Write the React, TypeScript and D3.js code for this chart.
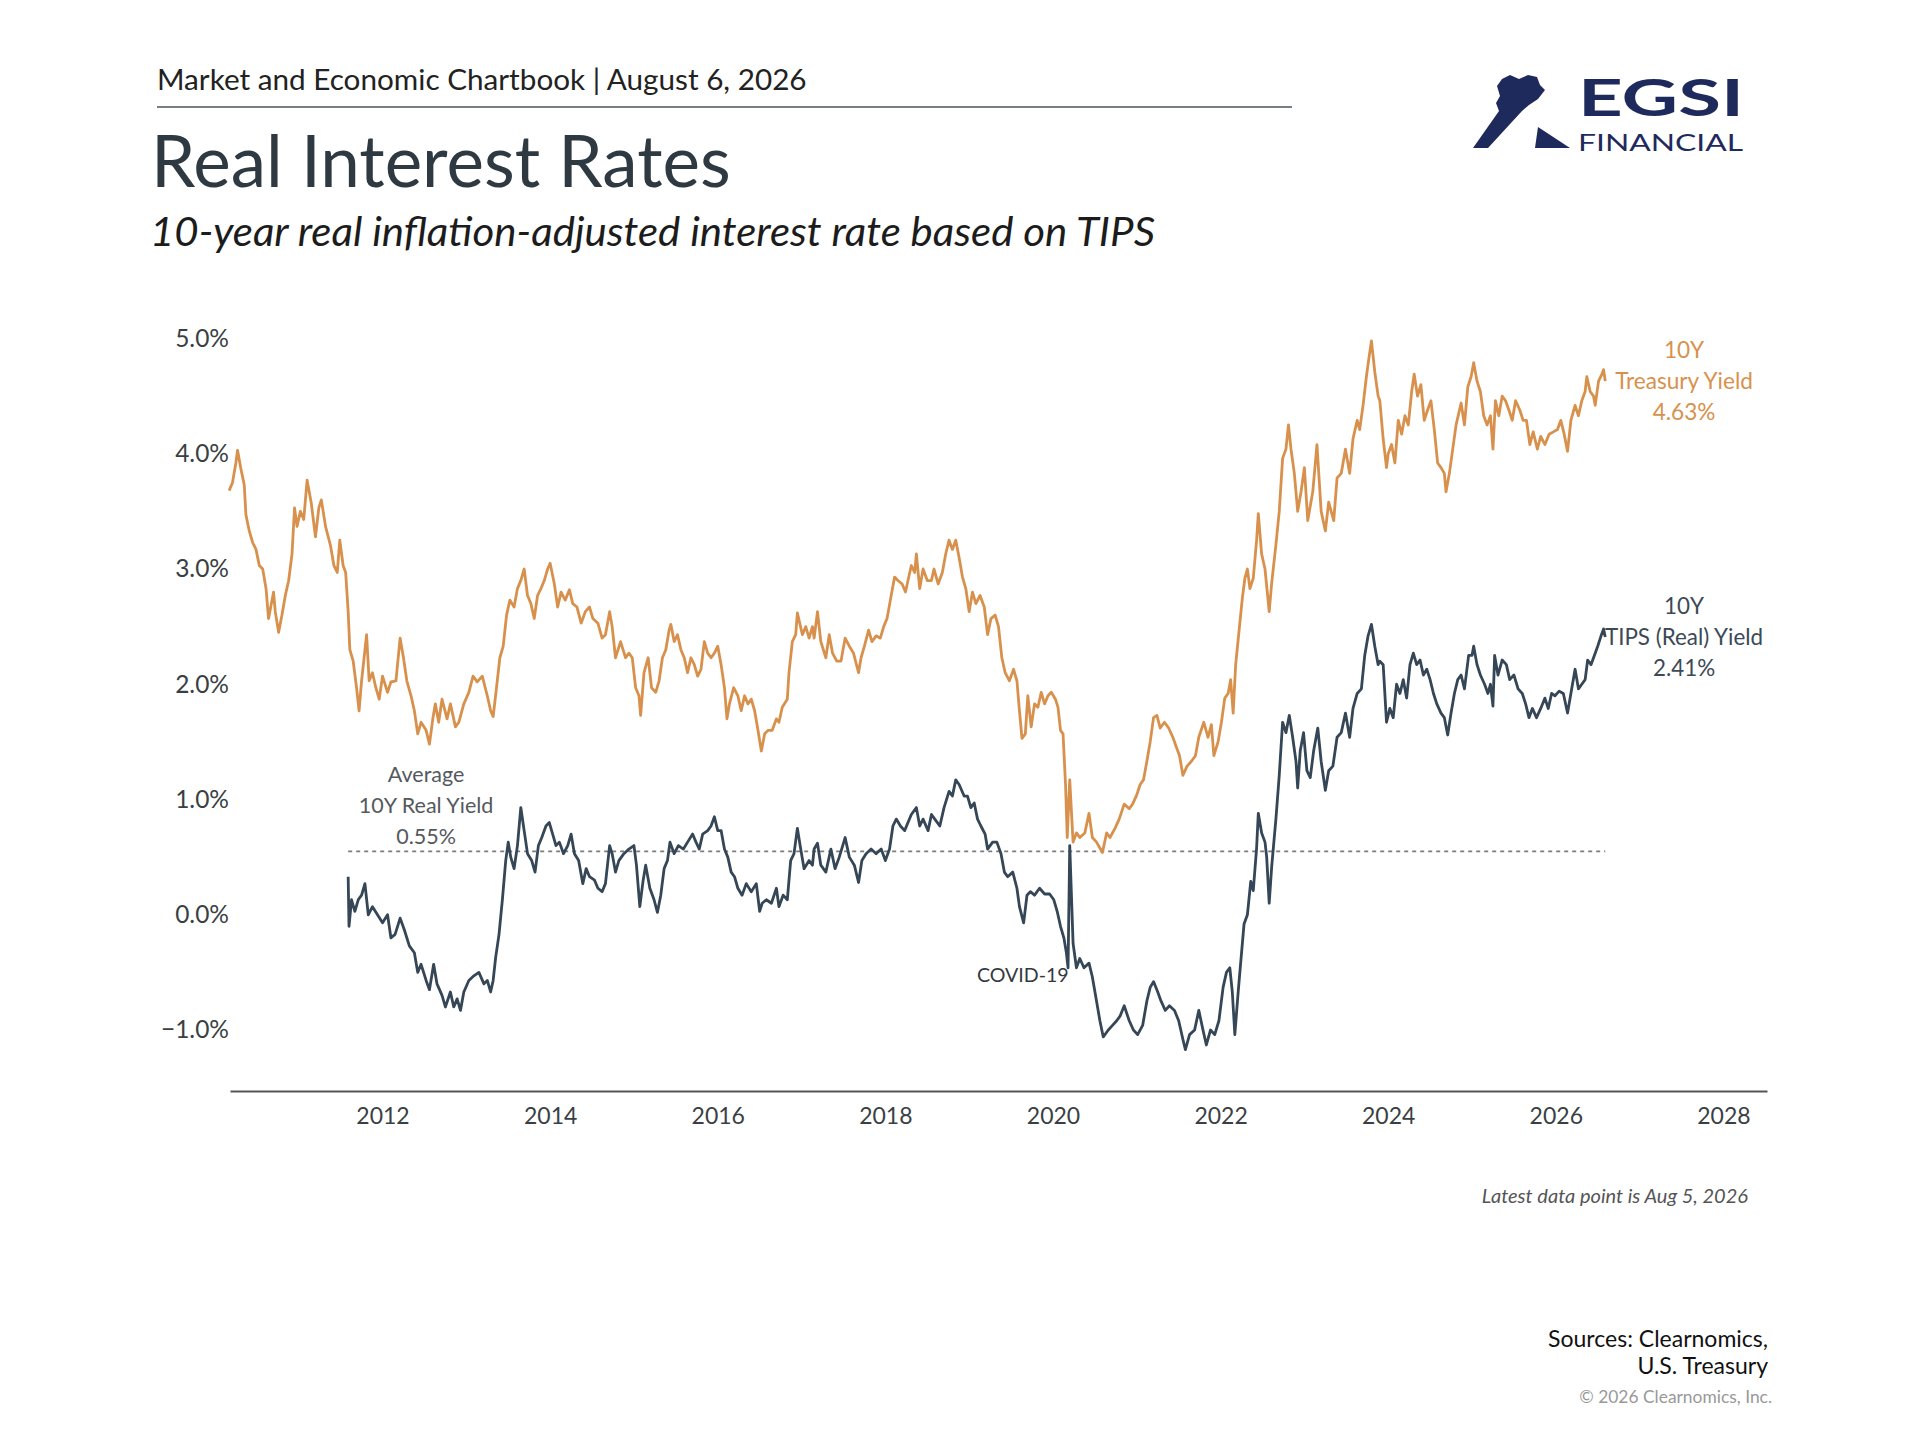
import { useEffect, useRef } from 'react';
import * as d3 from 'd3';

// 10Y Treasury yield, [decimal year, %]
const treasuryYield: [number, number][] = [
  [2010.17, 3.68], [2010.21, 3.75], [2010.25, 3.92], [2010.27, 4.03], [2010.31, 3.87], [2010.35, 3.73],
  [2010.37, 3.47], [2010.41, 3.33], [2010.45, 3.23], [2010.49, 3.17], [2010.53, 3.03], [2010.57, 3.0],
  [2010.61, 2.83], [2010.64, 2.57], [2010.70, 2.8], [2010.72, 2.63], [2010.76, 2.45], [2010.80, 2.6],
  [2010.84, 2.77], [2010.88, 2.9], [2010.92, 3.13], [2010.95, 3.53], [2010.98, 3.37], [2011.02, 3.5],
  [2011.06, 3.43], [2011.10, 3.77], [2011.15, 3.57], [2011.20, 3.28], [2011.24, 3.53], [2011.27, 3.6],
  [2011.32, 3.37], [2011.38, 3.2], [2011.42, 3.03], [2011.46, 2.97], [2011.49, 3.25], [2011.53, 3.03],
  [2011.56, 2.97], [2011.59, 2.63], [2011.61, 2.3], [2011.65, 2.2], [2011.69, 1.97], [2011.72, 1.77],
  [2011.75, 2.03], [2011.78, 2.23], [2011.81, 2.43], [2011.84, 2.03], [2011.88, 2.1], [2011.92, 1.97],
  [2011.96, 1.87], [2012.00, 2.07], [2012.06, 1.93], [2012.10, 2.02], [2012.16, 2.03], [2012.21, 2.4],
  [2012.25, 2.23], [2012.29, 2.03], [2012.34, 1.9], [2012.38, 1.77], [2012.42, 1.57], [2012.46, 1.67],
  [2012.52, 1.6], [2012.56, 1.48], [2012.60, 1.7], [2012.63, 1.83], [2012.67, 1.67], [2012.71, 1.87],
  [2012.77, 1.7], [2012.81, 1.83], [2012.87, 1.63], [2012.91, 1.67], [2012.97, 1.83], [2013.03, 1.93],
  [2013.08, 2.07], [2013.13, 2.02], [2013.19, 2.07], [2013.25, 1.9], [2013.29, 1.77], [2013.32, 1.72],
  [2013.36, 1.97], [2013.40, 2.23], [2013.44, 2.33], [2013.48, 2.6], [2013.52, 2.73], [2013.57, 2.67],
  [2013.61, 2.83], [2013.65, 2.9], [2013.69, 3.0], [2013.73, 2.77], [2013.77, 2.7], [2013.81, 2.57],
  [2013.85, 2.77], [2013.89, 2.83], [2013.93, 2.9], [2013.97, 3.0], [2014.00, 3.05], [2014.05, 2.87],
  [2014.09, 2.67], [2014.13, 2.8], [2014.18, 2.73], [2014.23, 2.82], [2014.27, 2.7], [2014.32, 2.67],
  [2014.37, 2.53], [2014.42, 2.63], [2014.47, 2.67], [2014.51, 2.57], [2014.57, 2.53], [2014.62, 2.4],
  [2014.66, 2.43], [2014.71, 2.63], [2014.74, 2.5], [2014.78, 2.23], [2014.84, 2.37], [2014.90, 2.23],
  [2014.94, 2.27], [2014.98, 2.23], [2015.02, 1.97], [2015.06, 1.9], [2015.08, 1.73], [2015.12, 2.1],
  [2015.17, 2.23], [2015.21, 1.97], [2015.26, 1.93], [2015.30, 2.03], [2015.34, 2.23], [2015.38, 2.3],
  [2015.42, 2.47], [2015.44, 2.52], [2015.48, 2.37], [2015.52, 2.43], [2015.56, 2.3], [2015.60, 2.23],
  [2015.64, 2.1], [2015.68, 2.23], [2015.72, 2.17], [2015.76, 2.07], [2015.80, 2.13], [2015.84, 2.37],
  [2015.88, 2.27], [2015.92, 2.23], [2015.96, 2.27], [2016.00, 2.33], [2016.04, 2.17], [2016.08, 1.97],
  [2016.11, 1.7], [2016.14, 1.83], [2016.19, 1.97], [2016.24, 1.9], [2016.28, 1.77], [2016.32, 1.9],
  [2016.36, 1.83], [2016.40, 1.87], [2016.44, 1.77], [2016.48, 1.6], [2016.52, 1.42], [2016.56, 1.57],
  [2016.60, 1.6], [2016.65, 1.6], [2016.70, 1.7], [2016.73, 1.67], [2016.77, 1.8], [2016.83, 1.87],
  [2016.85, 2.1], [2016.89, 2.37], [2016.93, 2.43], [2016.95, 2.62], [2017.01, 2.43], [2017.05, 2.5],
  [2017.09, 2.4], [2017.13, 2.5], [2017.15, 2.4], [2017.19, 2.63], [2017.23, 2.37], [2017.29, 2.23],
  [2017.33, 2.43], [2017.37, 2.27], [2017.42, 2.2], [2017.47, 2.2], [2017.52, 2.4], [2017.57, 2.33],
  [2017.62, 2.27], [2017.68, 2.1], [2017.71, 2.23], [2017.75, 2.33], [2017.80, 2.47], [2017.84, 2.37],
  [2017.89, 2.42], [2017.94, 2.4], [2017.98, 2.5], [2018.02, 2.57], [2018.06, 2.73], [2018.11, 2.93],
  [2018.15, 2.9], [2018.20, 2.87], [2018.24, 2.8], [2018.27, 2.9], [2018.31, 3.03], [2018.35, 2.97],
  [2018.37, 3.13], [2018.41, 2.83], [2018.45, 3.0], [2018.50, 2.9], [2018.55, 2.9], [2018.58, 3.0],
  [2018.63, 2.87], [2018.68, 2.97], [2018.72, 3.13], [2018.76, 3.25], [2018.80, 3.17], [2018.84, 3.25],
  [2018.88, 3.1], [2018.92, 2.93], [2018.96, 2.83], [2019.00, 2.63], [2019.04, 2.8], [2019.08, 2.7],
  [2019.13, 2.77], [2019.18, 2.67], [2019.22, 2.43], [2019.26, 2.57], [2019.31, 2.6], [2019.35, 2.5],
  [2019.39, 2.23], [2019.43, 2.1], [2019.48, 2.03], [2019.53, 2.13], [2019.57, 2.03], [2019.60, 1.77],
  [2019.63, 1.53], [2019.67, 1.57], [2019.70, 1.9], [2019.74, 1.63], [2019.78, 1.83], [2019.82, 1.8],
  [2019.86, 1.93], [2019.90, 1.83], [2019.94, 1.9], [2019.98, 1.93], [2020.03, 1.87], [2020.06, 1.8],
  [2020.09, 1.6], [2020.12, 1.57], [2020.15, 1.13], [2020.17, 0.67], [2020.20, 1.17], [2020.24, 0.63],
  [2020.28, 0.71], [2020.32, 0.67], [2020.38, 0.71], [2020.43, 0.88], [2020.47, 0.67], [2020.52, 0.63],
  [2020.59, 0.54], [2020.64, 0.71], [2020.68, 0.67], [2020.74, 0.75], [2020.79, 0.83], [2020.85, 0.96],
  [2020.91, 0.92], [2020.95, 0.96], [2021.00, 1.04], [2021.04, 1.13], [2021.08, 1.17], [2021.12, 1.33],
  [2021.16, 1.5], [2021.20, 1.71], [2021.24, 1.73], [2021.28, 1.62], [2021.33, 1.67], [2021.38, 1.62],
  [2021.43, 1.54], [2021.47, 1.46], [2021.51, 1.38], [2021.55, 1.21], [2021.60, 1.29], [2021.65, 1.33],
  [2021.70, 1.38], [2021.74, 1.54], [2021.80, 1.67], [2021.85, 1.54], [2021.89, 1.65], [2021.92, 1.38],
  [2021.97, 1.5], [2022.01, 1.67], [2022.05, 1.88], [2022.09, 1.92], [2022.12, 2.04], [2022.15, 1.75],
  [2022.18, 2.17], [2022.22, 2.46], [2022.26, 2.75], [2022.29, 2.92], [2022.32, 3.0], [2022.35, 2.83],
  [2022.39, 2.92], [2022.43, 3.25], [2022.45, 3.48], [2022.49, 3.13], [2022.53, 3.0], [2022.58, 2.63],
  [2022.61, 2.88], [2022.66, 3.21], [2022.70, 3.5], [2022.74, 3.96], [2022.78, 4.04], [2022.81, 4.25],
  [2022.84, 4.04], [2022.88, 3.83], [2022.92, 3.5], [2022.96, 3.67], [2023.00, 3.88], [2023.04, 3.42],
  [2023.10, 3.67], [2023.15, 4.08], [2023.20, 3.5], [2023.25, 3.33], [2023.29, 3.58], [2023.35, 3.42],
  [2023.39, 3.79], [2023.44, 3.83], [2023.49, 4.04], [2023.54, 3.83], [2023.58, 4.13], [2023.63, 4.29],
  [2023.66, 4.21], [2023.70, 4.42], [2023.74, 4.67], [2023.77, 4.83], [2023.80, 4.98], [2023.84, 4.71],
  [2023.88, 4.5], [2023.90, 4.46], [2023.94, 4.13], [2023.98, 3.88], [2024.00, 4.0], [2024.04, 4.08],
  [2024.08, 3.92], [2024.12, 4.29], [2024.16, 4.17], [2024.20, 4.33], [2024.24, 4.25], [2024.28, 4.54],
  [2024.31, 4.69], [2024.35, 4.5], [2024.39, 4.6], [2024.43, 4.29], [2024.47, 4.38], [2024.51, 4.46],
  [2024.55, 4.21], [2024.59, 3.92], [2024.63, 3.88], [2024.67, 3.83], [2024.69, 3.67], [2024.73, 3.83],
  [2024.77, 4.04], [2024.81, 4.25], [2024.87, 4.44], [2024.91, 4.25], [2024.95, 4.58], [2024.99, 4.67],
  [2025.02, 4.79], [2025.06, 4.63], [2025.10, 4.54], [2025.14, 4.33], [2025.18, 4.25], [2025.22, 4.33],
  [2025.25, 4.04], [2025.28, 4.46], [2025.32, 4.33], [2025.36, 4.5], [2025.40, 4.46], [2025.44, 4.38],
  [2025.48, 4.29], [2025.52, 4.46], [2025.57, 4.38], [2025.61, 4.29], [2025.65, 4.29], [2025.69, 4.08],
  [2025.73, 4.19], [2025.78, 4.04], [2025.82, 4.15], [2025.87, 4.08], [2025.92, 4.17], [2025.97, 4.19],
  [2026.02, 4.21], [2026.06, 4.29], [2026.10, 4.17], [2026.14, 4.02], [2026.18, 4.29], [2026.23, 4.42],
  [2026.27, 4.33], [2026.31, 4.46], [2026.35, 4.54], [2026.37, 4.67], [2026.41, 4.54], [2026.45, 4.5],
  [2026.47, 4.42], [2026.51, 4.63], [2026.55, 4.69], [2026.57, 4.73], [2026.59, 4.63],
];

// 10Y TIPS (real) yield, [decimal year, %]
const tipsYield: [number, number][] = [
  [2011.59, 0.33], [2011.60, -0.1], [2011.63, 0.13], [2011.67, 0.03], [2011.71, 0.13], [2011.75, 0.17],
  [2011.79, 0.27], [2011.83, 0.0], [2011.88, 0.07], [2011.94, 0.0], [2012.00, -0.07], [2012.06, 0.0],
  [2012.10, -0.2], [2012.15, -0.17], [2012.21, -0.03], [2012.26, -0.13], [2012.32, -0.27], [2012.38, -0.33],
  [2012.42, -0.5], [2012.46, -0.43], [2012.52, -0.57], [2012.56, -0.65], [2012.61, -0.43], [2012.65, -0.6],
  [2012.71, -0.7], [2012.75, -0.8], [2012.81, -0.67], [2012.85, -0.8], [2012.89, -0.73], [2012.93, -0.83],
  [2012.97, -0.67], [2013.03, -0.57], [2013.09, -0.53], [2013.15, -0.5], [2013.21, -0.6], [2013.25, -0.57],
  [2013.29, -0.67], [2013.32, -0.57], [2013.35, -0.37], [2013.39, -0.17], [2013.43, 0.13], [2013.47, 0.47],
  [2013.50, 0.63], [2013.53, 0.5], [2013.57, 0.4], [2013.61, 0.6], [2013.65, 0.93], [2013.69, 0.73],
  [2013.73, 0.53], [2013.78, 0.47], [2013.82, 0.37], [2013.86, 0.6], [2013.90, 0.67], [2013.95, 0.77],
  [2013.99, 0.8], [2014.03, 0.7], [2014.07, 0.6], [2014.11, 0.63], [2014.16, 0.53], [2014.21, 0.6],
  [2014.25, 0.7], [2014.29, 0.53], [2014.34, 0.47], [2014.39, 0.27], [2014.43, 0.4], [2014.47, 0.33],
  [2014.53, 0.3], [2014.57, 0.23], [2014.62, 0.2], [2014.66, 0.27], [2014.71, 0.6], [2014.74, 0.53],
  [2014.78, 0.37], [2014.82, 0.47], [2014.88, 0.53], [2014.94, 0.57], [2015.00, 0.6], [2015.03, 0.43],
  [2015.07, 0.07], [2015.11, 0.3], [2015.14, 0.43], [2015.19, 0.23], [2015.24, 0.13], [2015.28, 0.02],
  [2015.32, 0.17], [2015.36, 0.4], [2015.40, 0.47], [2015.43, 0.63], [2015.48, 0.53], [2015.53, 0.6],
  [2015.59, 0.57], [2015.64, 0.63], [2015.70, 0.7], [2015.74, 0.63], [2015.78, 0.57], [2015.82, 0.7],
  [2015.88, 0.73], [2015.92, 0.77], [2015.96, 0.85], [2016.00, 0.73], [2016.04, 0.73], [2016.08, 0.57],
  [2016.12, 0.5], [2016.16, 0.37], [2016.20, 0.33], [2016.24, 0.23], [2016.29, 0.17], [2016.34, 0.27],
  [2016.40, 0.2], [2016.46, 0.27], [2016.50, 0.03], [2016.53, 0.1], [2016.58, 0.13], [2016.64, 0.1],
  [2016.70, 0.23], [2016.73, 0.07], [2016.78, 0.17], [2016.83, 0.13], [2016.87, 0.47], [2016.91, 0.53],
  [2016.95, 0.75], [2016.99, 0.57], [2017.03, 0.4], [2017.09, 0.47], [2017.13, 0.43], [2017.15, 0.57],
  [2017.19, 0.62], [2017.23, 0.43], [2017.29, 0.37], [2017.35, 0.57], [2017.40, 0.4], [2017.45, 0.5],
  [2017.52, 0.67], [2017.57, 0.5], [2017.63, 0.43], [2017.68, 0.28], [2017.72, 0.47], [2017.77, 0.53],
  [2017.83, 0.57], [2017.89, 0.53], [2017.95, 0.57], [2018.00, 0.47], [2018.05, 0.57], [2018.09, 0.77],
  [2018.13, 0.83], [2018.18, 0.77], [2018.23, 0.73], [2018.27, 0.8], [2018.31, 0.87], [2018.37, 0.93],
  [2018.41, 0.77], [2018.45, 0.83], [2018.51, 0.73], [2018.55, 0.87], [2018.59, 0.83], [2018.65, 0.77],
  [2018.70, 0.93], [2018.76, 1.07], [2018.80, 1.03], [2018.84, 1.17], [2018.88, 1.13], [2018.94, 1.03],
  [2018.98, 1.03], [2019.02, 0.93], [2019.06, 0.97], [2019.10, 0.83], [2019.14, 0.77], [2019.19, 0.7],
  [2019.22, 0.57], [2019.28, 0.63], [2019.33, 0.63], [2019.38, 0.53], [2019.42, 0.37], [2019.46, 0.33],
  [2019.52, 0.37], [2019.57, 0.23], [2019.60, 0.07], [2019.65, -0.07], [2019.69, 0.17], [2019.73, 0.2],
  [2019.78, 0.17], [2019.84, 0.23], [2019.90, 0.18], [2019.96, 0.18], [2020.01, 0.13], [2020.05, 0.03],
  [2020.09, -0.1], [2020.13, -0.2], [2020.16, -0.33], [2020.18, -0.46], [2020.20, 0.6], [2020.24, -0.25],
  [2020.28, -0.46], [2020.32, -0.38], [2020.37, -0.46], [2020.43, -0.42], [2020.47, -0.54], [2020.52, -0.75],
  [2020.56, -0.92], [2020.60, -1.06], [2020.66, -1.0], [2020.71, -0.96], [2020.76, -0.92], [2020.80, -0.88],
  [2020.85, -0.79], [2020.91, -0.92], [2020.96, -1.0], [2021.01, -1.04], [2021.07, -0.96], [2021.12, -0.75],
  [2021.16, -0.63], [2021.20, -0.58], [2021.25, -0.67], [2021.29, -0.75], [2021.34, -0.83], [2021.39, -0.79],
  [2021.45, -0.83], [2021.50, -0.92], [2021.55, -1.08], [2021.58, -1.17], [2021.63, -1.04], [2021.69, -1.0],
  [2021.74, -0.83], [2021.79, -1.0], [2021.83, -1.13], [2021.88, -1.0], [2021.93, -1.04], [2021.98, -0.92],
  [2022.03, -0.63], [2022.07, -0.5], [2022.11, -0.46], [2022.14, -0.67], [2022.17, -1.04], [2022.21, -0.67],
  [2022.25, -0.33], [2022.28, -0.08], [2022.32, 0.0], [2022.36, 0.29], [2022.39, 0.21], [2022.43, 0.58],
  [2022.45, 0.88], [2022.49, 0.71], [2022.53, 0.63], [2022.55, 0.5], [2022.58, 0.1], [2022.61, 0.42],
  [2022.66, 0.83], [2022.70, 1.21], [2022.74, 1.67], [2022.78, 1.58], [2022.82, 1.73], [2022.86, 1.54],
  [2022.90, 1.33], [2022.92, 1.1], [2022.95, 1.42], [2022.99, 1.58], [2023.03, 1.25], [2023.07, 1.19],
  [2023.11, 1.42], [2023.16, 1.62], [2023.20, 1.33], [2023.25, 1.08], [2023.29, 1.25], [2023.34, 1.29],
  [2023.39, 1.54], [2023.44, 1.58], [2023.49, 1.75], [2023.54, 1.54], [2023.58, 1.79], [2023.63, 1.92],
  [2023.68, 1.96], [2023.72, 2.25], [2023.76, 2.42], [2023.80, 2.52], [2023.84, 2.33], [2023.88, 2.17],
  [2023.90, 2.2], [2023.94, 2.17], [2023.98, 1.67], [2024.02, 1.79], [2024.06, 1.71], [2024.10, 2.0],
  [2024.14, 1.92], [2024.18, 2.04], [2024.22, 1.88], [2024.26, 2.17], [2024.30, 2.27], [2024.34, 2.17],
  [2024.38, 2.21], [2024.42, 2.08], [2024.46, 2.13], [2024.50, 2.04], [2024.54, 1.92], [2024.58, 1.83],
  [2024.63, 1.75], [2024.67, 1.71], [2024.71, 1.56], [2024.75, 1.75], [2024.79, 1.92], [2024.83, 2.04],
  [2024.87, 2.08], [2024.91, 1.96], [2024.96, 2.25], [2025.00, 2.25], [2025.02, 2.33], [2025.06, 2.17],
  [2025.10, 2.08], [2025.15, 2.0], [2025.19, 1.92], [2025.22, 2.0], [2025.25, 1.81], [2025.27, 2.25],
  [2025.31, 2.08], [2025.36, 2.21], [2025.41, 2.17], [2025.45, 2.04], [2025.50, 2.08], [2025.55, 1.96],
  [2025.60, 1.92], [2025.64, 1.83], [2025.68, 1.71], [2025.72, 1.79], [2025.77, 1.71], [2025.82, 1.79],
  [2025.87, 1.88], [2025.91, 1.79], [2025.95, 1.92], [2025.99, 1.9], [2026.04, 1.94], [2026.09, 1.92],
  [2026.14, 1.75], [2026.18, 1.92], [2026.23, 2.13], [2026.27, 1.96], [2026.31, 2.0], [2026.35, 2.04],
  [2026.38, 2.21], [2026.42, 2.17], [2026.46, 2.25], [2026.50, 2.33], [2026.54, 2.42], [2026.57, 2.48],
  [2026.59, 2.41],
];

const yTicks = [-1, 0, 1, 2, 3, 4, 5];
const xTicks = [2012, 2014, 2016, 2018, 2020, 2022, 2024, 2026, 2028];
const averageRealYield = 0.55;
const covidYear = 2020.2;
const treasuryLabel = ['10Y', 'Treasury Yield', '4.63%'];
const tipsLabel = ['10Y', 'TIPS (Real) Yield', '2.41%'];
const averageLabel = ['Average', '10Y Real Yield', '0.55%'];

const FONT = 'Lato, "Open Sans", sans-serif';
const ORANGE = '#d8914c';
const SLATE = '#354656';

const App = () => {
  const svgRef = useRef<SVGSVGElement>(null);

  useEffect(() => {
    if (!svgRef.current) return;
    const svg = d3.select(svgRef.current);
    svg.selectAll('*').remove();

    const x = d3.scaleLinear().domain([2010.18, 2028.52]).range([230, 1767]);
    const y = d3.scaleLinear().domain([-1, 5]).range([1030, 338.5]);

    svg.append('rect').attr('width', 1920).attr('height', 1440).attr('fill', '#fff');

    // Header
    svg.append('text')
      .attr('x', 157).attr('y', 90)
      .style('font-family', FONT).style('font-size', '29.7px').attr('fill', '#222')
      .text('Market and Economic Chartbook | August 6, 2026');
    svg.append('line')
      .attr('x1', 157).attr('x2', 1292).attr('y1', 107).attr('y2', 107)
      .attr('stroke', '#4a555e').attr('stroke-width', 1.6);
    svg.append('text')
      .attr('x', 151).attr('y', 187)
      .style('font-family', FONT).style('font-size', '71px').attr('fill', '#2e3942')
      .text('Real Interest Rates');
    svg.append('text')
      .attr('x', 150).attr('y', 246)
      .attr('textLength', 1005).attr('lengthAdjust', 'spacingAndGlyphs')
      .style('font-family', FONT).style('font-size', '40px').style('font-style', 'italic').attr('fill', '#1c1c1c')
      .text('10-year real inflation-adjusted interest rate based on TIPS');

    // Logo
    const logo = svg.append('g').attr('fill', '#1f2a5c');
    logo.append('path')
      .attr('d', 'M1473,148 L1488,148 L1522,111 L1529,105 L1538,99 L1545,90 L1540,85 L1537,77 L1528,75 L1519,79 L1510,75 L1502,79 L1497,86 L1500,96 L1496,103 L1499,111 Z');
    logo.append('path').attr('d', 'M1538,127 L1570,148 L1535,148 Z');
    logo.append('text')
      .attr('x', 1578).attr('y', 116).attr('textLength', 166).attr('lengthAdjust', 'spacingAndGlyphs')
      .style('font-family', FONT).style('font-size', '52px').style('font-weight', 700)
      .text('EGSI');
    logo.append('text')
      .attr('x', 1578).attr('y', 150.5).attr('textLength', 165).attr('lengthAdjust', 'spacingAndGlyphs')
      .style('font-family', FONT).style('font-size', '23px')
      .text('FINANCIAL');

    // Y axis
    const fmt = d3.format('.1f');
    svg.append('g')
      .attr('transform', 'translate(229,0)')
      .call(d3.axisLeft(y).tickValues(yTicks).tickSize(0).tickPadding(0).tickFormat(d => `${fmt(d as number)}%`))
      .call(g => g.select('.domain').remove())
      .call(g => g.selectAll('text')
        .style('font-family', FONT).style('font-size', '24.5px').attr('fill', '#3a3f44'));

    // X axis
    svg.append('g')
      .attr('transform', 'translate(0,1091)')
      .call(d3.axisBottom(x).tickValues(xTicks).tickSize(0).tickSizeOuter(0).tickPadding(17).tickFormat(d3.format('d')))
      .call(g => g.select('.domain').attr('stroke', '#555').attr('stroke-width', 2))
      .call(g => g.selectAll('text')
        .style('font-family', FONT).style('font-size', '23px').attr('fill', '#3a3f44'));

    // Average real yield line
    const tFirst = tipsYield[0][0];
    const tLast = tipsYield[tipsYield.length - 1][0];
    svg.append('line')
      .attr('x1', x(tFirst)).attr('x2', x(tLast))
      .attr('y1', y(averageRealYield)).attr('y2', y(averageRealYield))
      .attr('stroke', '#7d7d7d').attr('stroke-width', 1.6).attr('stroke-dasharray', '4 4');

    const line = d3.line<[number, number]>().x(d => x(d[0])).y(d => y(d[1]));

    svg.append('path').datum(treasuryYield)
      .attr('d', line).attr('fill', 'none').attr('stroke', ORANGE)
      .attr('stroke-width', 2.8).attr('stroke-linejoin', 'round');
    svg.append('path').datum(tipsYield)
      .attr('d', line).attr('fill', 'none').attr('stroke', SLATE)
      .attr('stroke-width', 2.8).attr('stroke-linejoin', 'round');

    // Annotations
    const labelBlock = (lines: string[], cx: number, top: number, color: string, size: number) => {
      lines.forEach((s, i) => {
        svg.append('text')
          .attr('x', cx).attr('y', top + i * 31)
          .attr('text-anchor', 'middle')
          .style('font-family', FONT).style('font-size', `${size}px`).attr('fill', color)
          .text(s);
      });
    };
    labelBlock(averageLabel, x(2012.52), y(averageRealYield) - 69, '#55595e', 21.5);
    labelBlock(treasuryLabel, x(2027.53), 358, ORANGE, 22.6);
    labelBlock(tipsLabel, x(2027.53), 614, '#3c4956', 22.4);

    svg.append('text')
      .attr('x', x(covidYear) - 1).attr('y', y(-0.58))
      .attr('text-anchor', 'end')
      .style('font-family', FONT).style('font-size', '19.6px').attr('fill', '#33393f')
      .text('COVID-19');

    // Footer
    svg.append('text')
      .attr('x', 1748).attr('y', 1203).attr('text-anchor', 'end')
      .style('font-family', FONT).style('font-size', '20px').style('font-style', 'italic').attr('fill', '#555')
      .text('Latest data point is Aug 5, 2026');
    svg.append('text')
      .attr('x', 1768).attr('y', 1347).attr('text-anchor', 'end')
      .style('font-family', FONT).style('font-size', '23px').attr('fill', '#111')
      .text('Sources: Clearnomics,');
    svg.append('text')
      .attr('x', 1768).attr('y', 1374).attr('text-anchor', 'end')
      .style('font-family', FONT).style('font-size', '23px').attr('fill', '#111')
      .text('U.S. Treasury');
    svg.append('text')
      .attr('x', 1772).attr('y', 1403).attr('text-anchor', 'end')
      .style('font-family', FONT).style('font-size', '17.4px').attr('fill', '#999')
      .text('© 2026 Clearnomics, Inc.');
  }, []);

  return (
    <svg
      ref={svgRef}
      width={1920}
      height={1440}
      style={{ position: 'absolute', left: 0, top: 0 }}
    />
  );
};

export default App;
